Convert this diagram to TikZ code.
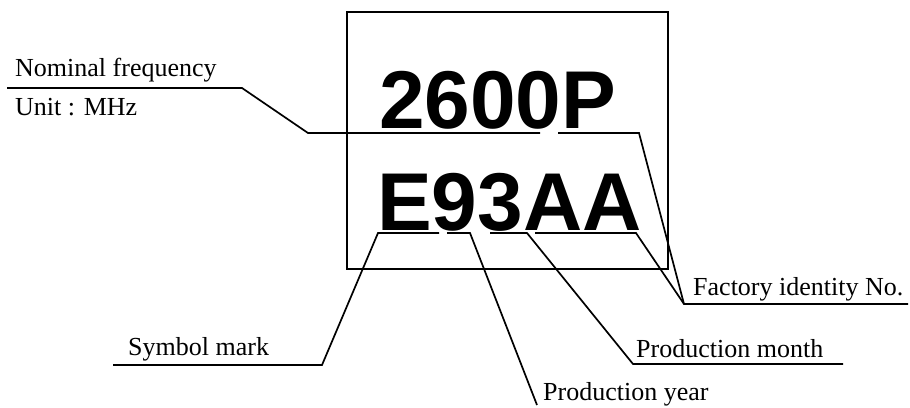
\documentclass[tikz,border=0pt]{standalone}
\usepackage{fontspec}
\setmainfont{Liberation Serif}
\newfontfamily\markfont{Liberation Sans}
\tikzset{
  lead/.style={line width=1.7pt, line join=miter},
  tag/.style={anchor=base west, inner sep=0pt, font=\fontsize{26}{30}\selectfont},
  code/.style={anchor=base west, inner sep=0pt, font=\markfont\bfseries\fontsize{82}{90}\selectfont},
}
\begin{document}
\begin{tikzpicture}[x=1pt,y=-1pt]
\useasboundingbox (0,0) rectangle (910,407);
% chip outline
\draw[line width=1.9pt] (347,12) rectangle (668,269);
% marking
\node[code] (freq) at (379,128) {2600P};
\node[code] (lot) at (377,230) {E93AA};
% labels
\node[tag] (nom) at (15,76) {Nominal frequency};
\node[tag] (unit) at (15,115) {Unit : MHz};
\node[tag] (sym) at (128,355) {Symbol mark};
\node[tag] (fac) at (693,295) {Factory identity No.};
\node[tag] (mon) at (636,357) {Production month};
\node[tag] (yr) at (543,400) {Production year};
% lead line corners
\coordinate (nomL) at (7,88);
\coordinate (nomK) at (242,88);
\coordinate (nomB) at (308,133);
\coordinate (nomE) at (540,133);
\coordinate (pL) at (558,133);
\coordinate (pR) at (639,133);
\coordinate (facK) at (684,304);
\coordinate (facR) at (908,304);
\coordinate (aaL) at (535,233);
\coordinate (aaR) at (636,233);
\coordinate (eR) at (439,233);
\coordinate (eL) at (378,233);
\coordinate (symK) at (322,365);
\coordinate (symL) at (113,365);
\coordinate (nL) at (447,233);
\coordinate (nR) at (470,233);
\coordinate (yrK) at (537,405);
\coordinate (tL) at (490,233);
\coordinate (tR) at (527,233);
\coordinate (monK) at (633,364);
\coordinate (monR) at (843,364);
% lead lines
\draw[lead] (nomL)--(nomK)--(nomB)--(nomE);
\draw[lead] (pL)--(pR)--(facK)--(facR);
\draw[lead] (aaL)--(aaR)--(facK);
\draw[lead] (eR)--(eL)--(symK)--(symL);
\draw[lead] (nL)--(nR)--(yrK);
\draw[lead] (tL)--(tR)--(monK)--(monR);
\end{tikzpicture}
\end{document}
